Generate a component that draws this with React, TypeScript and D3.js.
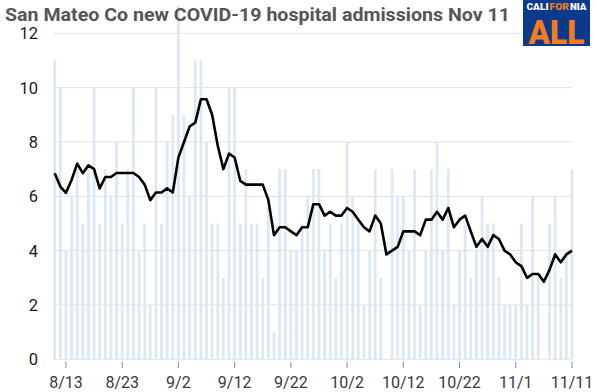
import { scaleTime, scaleLinear, line as d3_line, timeDay } from "d3";

// daily admissions and the 7-day average, from 8/11 to 11/11
const startDate = new Date(2021, 7, 11);
const admissions = [
  11, 10, 4, 6, 7, 5, 7, 10, 5, 7, 6, 8, 5, 7, 10, 4, 5, 2, 10, 5, 8, 9, 13,
  9, 6, 11, 11, 8, 5, 5, 3,
  10, 10, 5, 7, 5, 5, 3, 6, 1, 7, 7, 4, 4, 5, 6, 7,
  7, 4, 5, 3, 5, 8, 6, 5, 2, 4, 7, 3, 0, 7, 6, 6,
  4, 7, 2, 4, 7, 8, 4, 7, 2, 4, 5, 3, 4, 6, 5,
  5, 3, 2, 2, 2, 5, 2, 6, 3, 0, 5, 6, 3, 4, 7,
];
const weeklyAvg = [
  6.85, 6.36, 6.13, 6.6, 7.2, 6.85, 7.14, 7.0, 6.29, 6.71, 6.71, 6.86, 6.86,
  6.86, 6.86, 6.71, 6.43, 5.86, 6.14, 6.14, 6.29, 6.14, 7.43, 8.0, 8.57, 8.71,
  9.57, 9.57, 9.0, 7.86, 7.0, 7.57, 7.43, 6.57, 6.43, 6.43, 6.43, 6.43, 5.86,
  4.57, 4.86, 4.86, 4.71, 4.57, 4.86, 4.86, 5.71, 5.71, 5.29, 5.43, 5.29, 5.29,
  5.57, 5.43, 5.14, 4.86, 4.71, 5.29, 5.0, 3.86, 4.0, 4.14, 4.71, 4.71, 4.71,
  4.57, 5.14, 5.14, 5.43, 5.14, 5.57, 4.86, 5.14, 5.29, 4.71, 4.14, 4.43, 4.14,
  4.57, 4.43, 4.0, 3.86, 3.57, 3.43, 3.0, 3.14, 3.14, 2.86, 3.29, 3.86, 3.57,
  3.86, 4.0,
];
const yTicks = [0, 2, 4, 6, 8, 10, 12];
const xTickLabels = ["8/13", "8/23", "9/2", "9/12", "9/22", "10/2", "10/12", "10/22", "11/1", "11/11"];

const title = "San Mateo Co new COVID-19 hospital admissions Nov 11";

const W = 598;
const H = 392;

export default function App() {
  const data = admissions.map((v, i) => ({
    date: timeDay.offset(startDate, i),
    value: v,
    avg: weeklyAvg[i],
  }));

  const x = scaleTime()
    .domain([data[0].date, data[data.length - 1].date])
    .range([54.7, 572]);
  const y = scaleLinear().domain([0, 12]).range([359.3, 33.3]);

  const tickDates = xTickLabels.map((_, i) => timeDay.offset(startDate, 2 + i * 10));

  const avgLine = d3_line<(typeof data)[number]>()
    .x((d) => x(d.date))
    .y((d) => y(d.avg));

  const barW = 2.8;

  return (
    <svg
      width={W}
      height={H}
      style={{ position: "fixed", left: 0, top: 0, background: "#fff" }}
      fontFamily="Roboto, 'Liberation Sans', sans-serif"
    >
      {/* bars */}
      {data.map((d, i) => (
        <rect
          key={i}
          x={x(d.date) - barW / 2}
          y={y(d.value)}
          width={barW}
          height={y(0) - y(d.value)}
          fill="#dce9f5"
        />
      ))}

      {/* grid */}
      {yTicks.map((t) => (
        <line key={t} x1={53} x2={572} y1={y(t)} y2={y(t)} stroke="#e2e2e2" strokeWidth={1} />
      ))}

      {/* y labels */}
      {yTicks.map((t) => (
        <text key={t} x={38} y={y(t)} dy="0.36em" textAnchor="end" fontSize={16.5} fill="#1a1a1a">
          {t}
        </text>
      ))}

      {/* x ticks */}
      {tickDates.map((d, i) => (
        <g key={i} transform={`translate(${x(d)},0)`}>
          <line y1={362} y2={368} stroke="#888" strokeWidth={1} />
          <text y={388} textAnchor="middle" fontSize={16} fill="#3a3a3a">
            {xTickLabels[i]}
          </text>
        </g>
      ))}

      {/* 7-day average */}
      <path d={avgLine(data) ?? ""} fill="none" stroke="#000" strokeWidth={2.6} strokeLinejoin="round" />

      {/* title */}
      <text x={5} y={21} fontSize={18} fontWeight={700} fill="#555" textLength={505} lengthAdjust="spacingAndGlyphs">
        {title}
      </text>

      {/* logo */}
      <g fontWeight={900} fontSize={8.5}>
        <rect x={523} y={0} width={67} height={46} fill="#0b3a8c" />
        <text x={526.5} y={10} fill="#fff" textLength={22} lengthAdjust="spacingAndGlyphs">CALI</text>
        <text x={549.5} y={10} fill="#f47b20" textLength={19.5} lengthAdjust="spacingAndGlyphs">FOR</text>
        <text x={570} y={10} fill="#fff" textLength={16.5} lengthAdjust="spacingAndGlyphs">NIA</text>
        <text x={556.5} y={44} textAnchor="middle" fontSize={33} fill="#f47b20" textLength={56} lengthAdjust="spacingAndGlyphs">
          ALL
        </text>
      </g>
    </svg>
  );
}
